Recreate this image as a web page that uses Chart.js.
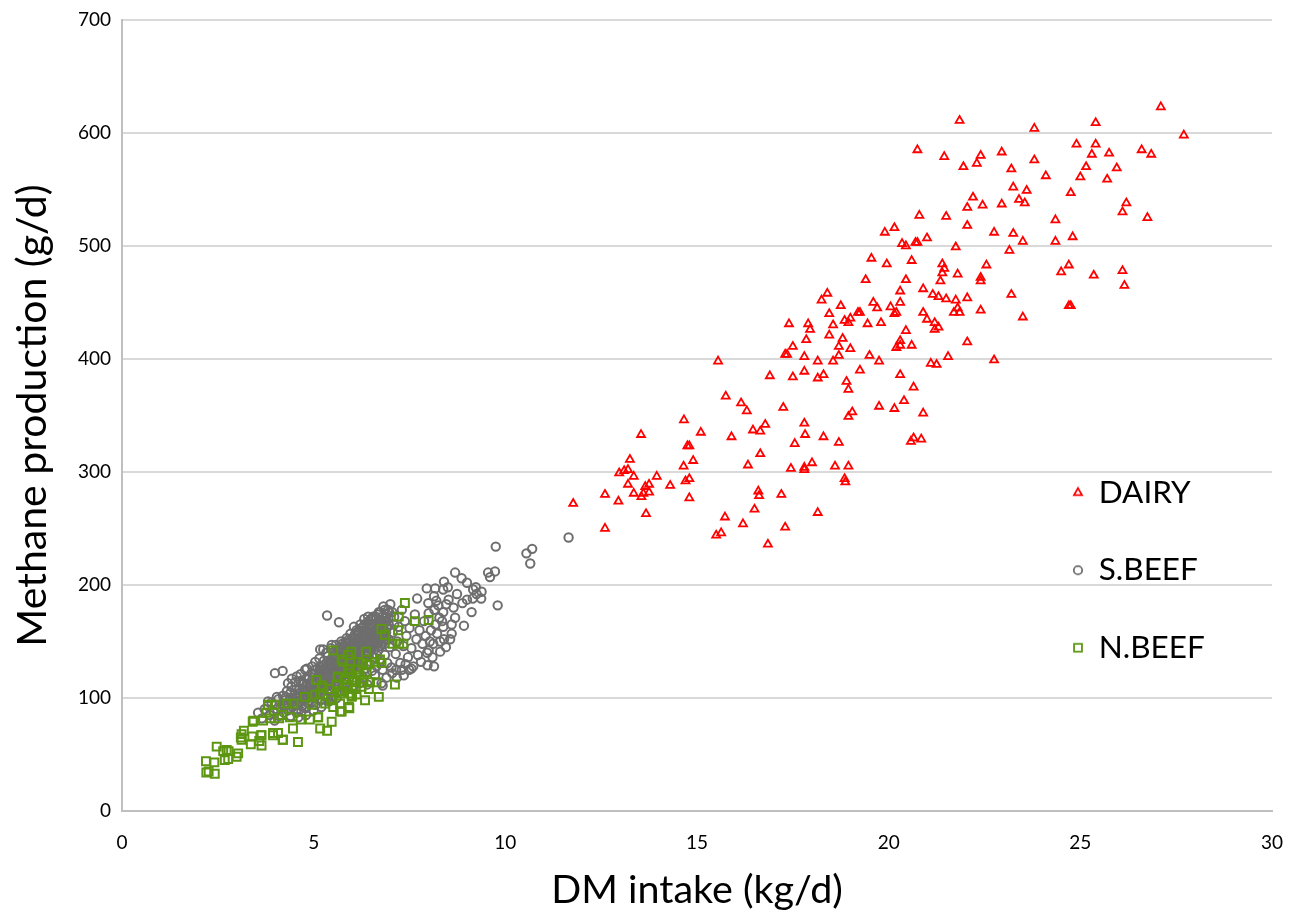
<!DOCTYPE html>
<html>
<head>
<meta charset="utf-8">
<style>
html,body{margin:0;padding:0;background:#fff;}
canvas{display:block;}
</style>
<script src="https://cdn.jsdelivr.net/npm/chart.js@4"></script>
</head>
<body>
<canvas id="scatterChart" width="1289" height="914"></canvas>
<script>
// values: [DM intake, methane]
const dairyPoints=[
[27.1,623],[27.7,598],[25.4,609],[21.85,611],[23.8,604],[25.4,590],[24.9,590],[20.75,585],[22.95,583],[26.6,585],
[25.75,582],[26.85,581],[21.45,579],[22.4,580],[25.3,581],[23.8,576],[25.15,570],[25.95,569],[22.3,573],[21.95,570],
[23.2,568],[24.1,562],[25.0,561],[25.7,559],[23.25,552],[23.6,549],[24.75,547],[22.2,543],[23.4,541],[23.55,538],
[22.95,537],[22.45,536],[22.05,534],[26.2,538],[26.1,530],[20.8,527],[21.5,526],[26.75,525],[24.35,523],[19.9,512],
[20.15,516],[22.05,518],[22.75,512],[23.25,511],[24.8,508],[21.0,507],[20.7,503],[20.35,502],[20.75,503],[20.45,500],
[21.75,499],[23.15,496],[23.5,504],[24.35,504],[19.55,489],[19.95,484],[20.6,487],[21.4,484],[21.45,480],[21.4,476],
[22.55,483],[24.7,483],[24.5,477],[25.35,474],[26.1,478],[26.15,465],[21.8,475],[22.4,472],[22.4,469],[20.45,470],
[19.4,470],[21.35,469],[20.9,462],[20.3,460],[18.4,458],[18.25,452],[17.9,431],[17.95,426],[17.4,431],[18.75,447],
[18.45,440],[19.6,450],[19.7,445],[20.3,450],[20.05,446],[20.2,441],[21.15,457],[21.3,455],[21.5,453],[21.75,452],
[22.05,454],[21.8,445],[21.85,441],[21.7,441],[22.4,443],[23.2,457],[23.5,437],[24.7,447],[24.75,447],[19.2,441],
[19.25,441],[20.15,440],[19.0,436],[18.85,434],[18.95,432],[19.45,431],[19.8,432],[18.55,430],[20.9,441],[21.0,435],
[21.2,432],[21.3,428],[21.2,426],[20.45,425],[20.3,416],[20.3,412],[20.6,412],[20.2,410],[22.05,415],[18.45,421],
[17.85,417],[18.8,418],[18.7,411],[19.5,403],[18.7,403],[18.55,398],[18.15,398],[19.0,409],[19.75,398],[16.9,385],
[17.3,404],[17.35,404],[17.5,411],[17.8,402],[21.1,396],[21.25,395],[21.55,402],[22.75,399],[20.3,386],[20.65,375],
[15.55,398],[15.75,367],[16.15,361],[16.3,354],[17.25,357],[17.5,384],[17.8,389],[18.15,383],[18.3,386],[18.9,380],
[18.95,373],[19.25,390],[19.05,353],[18.95,349],[19.75,358],[20.15,356],[20.4,363],[20.9,352],[14.66,346],[13.54,333],
[15.1,335],[14.8,323],[14.75,323],[14.9,310],[14.65,305],[14.8,294],[14.7,292],[14.8,277],[13.25,311],[12.97,299],
[13.1,301],[13.2,302],[13.35,296],[13.2,289],[13.35,281],[12.6,280],[12.95,274],[12.6,250],[11.77,272],[13.6,281],
[13.75,289],[13.65,287],[13.75,282],[13.95,296],[13.55,278],[13.67,263],[14.3,288],[15.9,331],[15.5,244],[15.63,246],
[15.73,260],[16.2,254],[16.5,267],[16.6,283],[16.62,279],[16.33,306],[16.46,337],[16.65,336],[16.78,342],[16.65,316],
[16.85,236],[17.3,251],[17.2,280],[17.45,303],[17.55,325],[17.8,343],[17.82,333],[17.8,302],[17.8,304],[18.0,308],
[18.15,264],[18.3,331],[18.6,305],[18.7,326],[18.95,305],[18.85,294],[18.87,291],[20.65,330],[20.58,327],[20.85,329]
];

const sBeefPoints=[
[9.75,234],[10.55,228],[10.7,232],[10.65,219],[9.8,182],[11.65,242],[8.69,211],[8.86,206],[9.0,202],[8.4,203],
[7.95,197],[8.17,197],[8.38,196],[8.5,198],[9.23,198],[9.16,196],[9.38,194],[9.37,188],[9.25,192],[8.74,192],
[9.55,211],[9.6,207],[9.73,212],[7.7,188],[8.14,190],[7.99,184],[8.2,186],[8.52,187],[8.46,183],[8.65,180],
[9.0,187],[9.15,188],[8.88,184],[9.12,176],[8.69,171],[8.92,164],[8.38,176],[8.28,171],[8.18,165],[8.6,165],
[8.38,163],[8.22,157],[8.6,157],[8.56,152],[8.4,152],[8.12,148],[8.0,142],[8.3,141],[8.14,128],[7.97,129],
[7.49,125],[7.3,125],[7.17,118],[6.77,113],[6.8,111],[5.35,173],[5.66,167],[6.05,163],[5.17,143],[5.25,143],
[5.47,147],[4.82,126],[5.04,132],[3.99,122],[4.19,124],[4.43,117],[4.56,119],[4.33,113],[4.04,101],[3.81,97],
[3.55,87],[3.65,82],[3.72,90],[3.8,93],[3.85,85],[3.9,96],[3.95,88],[3.98,80],[4.02,94],[4.08,99],
[4.1,84],[4.14,91],[4.2,102],[4.22,87],[4.27,95],[4.3,106],[4.33,89],[4.38,99],[4.42,110],[4.45,92],
[4.5,103],[4.52,114],[4.55,87],[4.6,97],[4.63,108],[4.66,121],[4.7,93],[4.72,102],[4.75,113],[4.78,125],
[4.8,91],[4.84,106],[4.88,117],[4.9,98],[4.93,110],[4.96,128],[5.0,101],[5.02,121],[5.05,94],[5.08,113],
[5.1,126],[5.12,105],[5.15,135],[5.18,98],[5.2,118],[5.22,110],[5.25,129],[5.28,102],[5.3,122],[5.33,140],
[5.35,113],[5.38,133],[5.4,106],[5.42,126],[5.45,144],[5.47,118],[5.5,101],[5.52,138],[5.54,129],[5.56,111],
[5.58,147],[5.6,122],[5.62,135],[5.64,105],[5.66,142],[5.68,116],[5.7,128],[5.72,150],[5.74,110],[5.76,137],
[5.78,121],[5.8,145],[5.82,131],[5.84,114],[5.86,153],[5.88,126],[5.9,140],[5.92,118],[5.94,134],[5.96,157],
[5.98,148],[6.0,123],[6.02,139],[6.04,116],[6.06,153],[6.08,130],[6.1,144],[6.12,160],[6.14,121],[6.16,136],
[6.18,150],[6.2,127],[6.22,165],[6.24,142],[6.26,156],[6.28,133],[6.3,118],[6.32,170],[6.34,147],[6.36,126],
[6.38,160],[6.4,138],[6.42,172],[6.44,152],[6.46,130],[6.48,165],[6.5,144],[6.52,124],[6.54,170],[6.56,156],
[6.58,136],[6.6,149],[6.62,172],[6.64,128],[6.66,162],[6.68,142],[6.7,176],[6.72,154],[6.74,134],[6.76,168],
[6.78,148],[6.8,125],[6.82,181],[6.84,160],[6.86,138],[6.88,172],[6.9,152],[6.92,131],[6.94,178],[6.96,165],
[6.98,145],[7.0,183],[7.03,127],[7.06,158],[7.1,172],[7.14,139],[7.18,150],[7.22,163],[7.26,131],[7.3,178],
[7.34,146],[7.38,168],[7.42,155],[7.46,136],[7.5,162],[7.55,144],[7.6,128],[7.64,174],[7.68,152],[7.72,138],
[7.76,160],[7.8,132],[7.84,148],[7.88,168],[7.92,155],[7.96,140],[8.0,175],[8.03,150],[8.06,160],[8.1,136],
[8.15,178],[8.25,182],[8.3,150],[8.35,168],[8.45,145],[7.15,125],[7.4,130],[7.55,126],[7.35,120],[7.05,122],
[6.9,118],[6.6,120],[6.4,112],[6.2,113],[6.0,108],[5.8,106],[5.6,100],[5.4,97],[5.2,92],[5.0,89],
[4.8,85],[4.6,83],[4.4,84],[5.15,124],[5.3,115],[5.45,128],[5.55,120],[5.65,130],[5.75,143],[5.85,135],
[5.95,128],[6.05,145],[6.15,128],[6.25,148],[6.35,138],[6.45,158],[6.55,146],[6.65,138],[6.75,158],[6.85,148],
[4.95,115],[5.05,108],[4.85,100],[4.65,115],[4.45,100],[4.25,98],[4.05,90],[5.55,108],[5.35,100],[6.1,134],
// dense core of the cloud
[4.5,94],[4.53,100],[4.57,90],[4.61,104],[4.64,96],[4.68,88],[4.71,108],[4.74,98],[4.77,92],[4.81,112],
[4.83,102],[4.86,95],[4.89,110],[4.92,104],[4.95,97],[4.98,118],[5.01,107],[5.03,100],[5.06,116],[5.09,109],
[5.11,99],[5.14,120],[5.16,112],[5.19,104],[5.21,125],[5.24,116],[5.26,108],[5.29,126],[5.31,119],[5.34,110],
[5.36,128],[5.39,122],[5.41,114],[5.44,133],[5.46,124],[5.49,116],[5.51,135],[5.53,126],[5.55,118],[5.57,139],
[5.59,130],[5.61,120],[5.63,142],[5.65,133],[5.67,124],[5.69,145],[5.71,136],[5.73,126],[5.75,148],[5.77,130],
[5.79,138],[5.81,123],[5.83,149],[5.85,142],[5.87,132],[5.89,151],[5.91,144],[5.93,128],[5.95,150],[5.97,138],
[5.99,131],[6.01,153],[6.03,146],[6.05,134],[6.07,156],[6.09,140],[6.11,130],[6.13,158],[6.15,148],[6.17,136],
[6.19,160],[6.21,151],[6.23,138],[6.25,162],[6.27,145],[6.29,135],[6.31,164],[6.33,154],[6.35,142],[6.37,166],
[6.39,150],[6.41,140],[6.43,168],[6.45,155],[6.47,145],[6.49,170],[6.51,158],[6.53,148],[6.55,172],[6.57,152],
[6.59,143],[6.61,166],[6.63,158],[6.65,148],[6.67,174],[6.69,160],[6.71,150],[6.73,176],[6.75,164],[6.77,152],
[6.79,172],[6.81,162],[6.83,155],[6.85,178],[6.87,168],[6.89,158],[6.91,174],[6.93,163],[6.95,152],[6.97,176],
[4.9,106],[5.0,113],[5.1,103],[5.2,122],[5.3,110],[5.4,119],[5.5,125],[5.6,128],[5.7,120],[5.8,134],
[5.9,146],[6.0,136],[6.1,150],[6.2,142],[6.3,155],[6.4,146],[6.5,162],[6.6,155],[6.7,168],[6.8,158],
[5.25,114],[5.35,124],[5.45,112],[5.55,132],[5.65,125],[5.75,136],[5.85,128],[5.95,142],[6.05,152],[6.15,142],
[6.25,134],[6.35,160],[6.45,150],[6.55,164],[6.65,154],[6.75,146],[6.85,166],[6.95,170],[7.05,176],[7.1,165],
[4.22,93],[4.28,101],[4.35,94],[4.4,105],[4.47,97],[4.55,108],[4.62,100],[4.69,112],[4.76,105],[4.82,118],
[4.87,109],[4.94,122],[4.99,112],[5.04,125],[5.07,104],[5.13,117],[5.17,128],[5.23,121],[5.27,133],[5.32,127],
[5.37,137],[5.43,120],[5.48,131],[5.53,141],[5.58,135],[5.63,127],[5.68,139],[5.72,131],[5.78,146],[5.83,138],
[5.88,131],[5.92,149],[5.97,143],[6.02,133],[6.06,147],[6.12,139],[6.18,144],[6.22,152],[6.28,158],[6.32,148],
[6.38,154],[6.42,144],[6.48,152],[6.52,166],[6.58,160],[6.62,152],[6.68,166],[6.72,158],[6.78,168],[6.82,150]
];

const nBeefPoints=[
[2.19,44],[2.41,43],[2.2,34],[2.26,35],[2.42,33],[2.47,57],[2.64,53],[2.73,54],[2.78,53],[2.68,45],
[2.77,46],[2.99,48],[3.03,51],[3.18,71],[3.12,68],[3.12,63],[3.1,65],[3.36,59],[3.41,79],[3.4,66],
[3.64,67],[3.64,58],[3.58,62],[3.94,69],[4.07,69],[4.2,63],[4.59,61],[4.46,73],[3.43,80],[4.19,63],
[5.17,73],[5.35,71],[5.47,79],[5.69,88],[5.93,91],[5.12,83],[4.9,81],[4.66,81],[4.38,83],[4.1,82],
[3.86,82],[3.68,80],[3.94,67],[4.77,101],[5.08,116],[5.21,111],[5.17,104],[4.95,94],[4.47,95],[4.3,95],
[3.99,94],[3.81,94],[3.77,87],[4.17,85],[5.63,119],[5.86,112],[5.95,104],[6.12,103],[5.69,104],[5.95,125],
[5.77,132],[6.12,116],[3.63,67],[7.38,184],[7.22,172],[7.64,168],[8.0,169],[6.77,161],[7.2,160],[6.86,156],
[7.06,148],[7.23,148],[7.34,148],[5.51,142],[6.37,141],[5.98,141],[5.9,138],[5.73,134],[6.73,134],[6.77,131],
[6.6,132],[6.16,132],[6.29,131],[6.38,129],[5.9,126],[5.64,118],[5.06,116],[5.25,109],[6.0,118],[6.05,114],
[5.85,110],[6.2,120],[6.1,108],[6.0,102],[5.75,106],[5.65,106],[6.3,114],[6.47,114],[6.64,114],[7.12,112],
[6.44,108],[6.25,110],[6.7,101],[6.34,98],[5.99,101],[5.92,92],[5.69,95],[5.51,92],[5.3,95],[5.04,103],
[5.11,83],[5.73,88],[6.38,123],[5.45,98],[5.6,112],[5.4,108],[5.9,122],[6.1,125],[6.45,130],[5.8,116]
];

const seriesNames=["DAIRY","S.BEEF","N.BEEF"];
const seriesColors=["#ff0000","#6e6e6e","#5c9612"];
const yTicks=[0,100,200,300,400,500,600,700];
const xTicks=[0,5,10,15,20,25,30];

const font="Lato, 'Open Sans', sans-serif";

// small canvas used as the legend key, so the key size can differ from the boxHeight
function legendKey(style,color,radius){
const c=document.createElement("canvas");
c.width=c.height=16;
const g=c.getContext("2d");
g.strokeStyle=color;
g.fillStyle="rgba(0,0,0,0)";
g.lineWidth=1.8;
Chart.helpers.drawPoint(g,{pointStyle:style,radius:radius,borderWidth:1.8},8,8);
return c;
}

// the legend sits inside the plot, right hand side
const moveLegend={
id:"moveLegend",
beforeDraw(chart){
chart.legend.left=1027;
chart.legend.top=431;
}
};

new Chart(document.getElementById("scatterChart"),{
type:"scatter",
data:{
datasets:[
{label:seriesNames[0],order:2,data:dairyPoints.map(p=>({x:p[0],y:p[1]})),pointStyle:"triangle",pointRadius:4.6,pointBorderColor:seriesColors[0],pointBackgroundColor:"rgba(0,0,0,0)",pointBorderWidth:1.8},
{label:seriesNames[1],order:1,data:sBeefPoints.map(p=>({x:p[0],y:p[1]})),pointStyle:"circle",pointRadius:4.2,pointBorderColor:seriesColors[1],pointBackgroundColor:"rgba(0,0,0,0)",pointBorderWidth:2},
{label:seriesNames[2],order:0,data:nBeefPoints.map(p=>({x:p[0],y:p[1]})),pointStyle:"rect",pointRadius:5.6,pointBorderColor:seriesColors[2],pointBackgroundColor:"rgba(0,0,0,0)",pointBorderWidth:2}
]
},
options:{
responsive:false,
animation:false,
layout:{padding:{top:20,right:17,left:0,bottom:0}},
plugins:{
title:{display:false},
tooltip:{enabled:false},
legend:{
display:true,
position:"chartArea",
align:"start",
labels:{
usePointStyle:true,
boxHeight:10,
boxWidth:10,
padding:46,
color:"#000",
font:{family:font,size:31.5},
generateLabels(chart){
return chart.data.datasets.map((d,i)=>({
text:d.label,
datasetIndex:i,
pointStyle:legendKey(d.pointStyle,d.pointBorderColor,d.pointRadius),
fontColor:"#000"
}));
}
}
}
},
scales:{
x:{
type:"linear",
min:0,max:30,
afterBuildTicks(a){a.ticks=xTicks.map(v=>({value:v}));},
afterFit(a){a.height=103;a.paddingLeft=0;a.paddingRight=0;},
grid:{display:false},
border:{color:"#bfbfbf",width:2},
ticks:{color:"#000",font:{family:font,size:19},padding:12,maxRotation:0},
title:{display:true,text:"DM intake (kg/d)",color:"#000",font:{family:font,size:39.5},padding:{top:13,bottom:0}}
},
y:{
type:"linear",
min:0,max:700,
afterBuildTicks(a){a.ticks=yTicks.map(v=>({value:v}));},
afterFit(a){a.width=122;a.paddingTop=0;a.paddingBottom=0;},
grid:{color:"#d9d9d9",lineWidth:2,drawTicks:false},
border:{color:"#bfbfbf",width:2},
ticks:{color:"#000",font:{family:font,size:19},padding:11},
title:{display:true,text:"Methane production (g/d)",color:"#000",font:{family:font,size:41},padding:{top:8,bottom:0}}
}
}
},
plugins:[moveLegend]
});
</script>
</body>
</html>
